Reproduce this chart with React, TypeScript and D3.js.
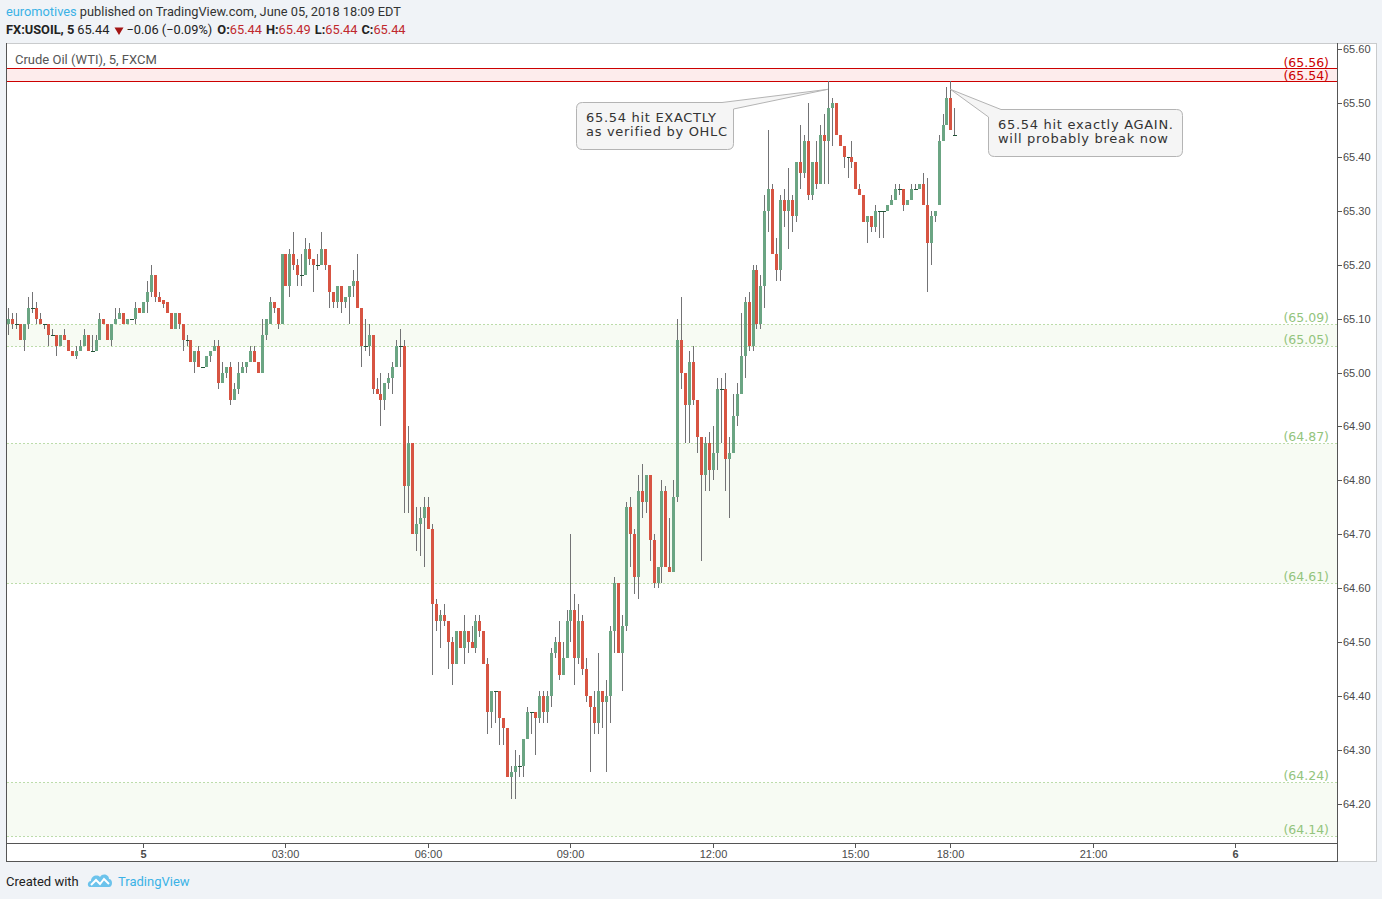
import React from 'react';
import * as d3 from 'd3';

// ---------- DATA (5-minute bars, FX:USOIL) ----------
const OPEN = [
  65.09,65.10,65.09,65.09,65.06,65.09,65.12,65.12,65.10,65.09,
  65.09,65.07,65.07,65.05,65.07,65.06,65.04,65.03,65.04,65.05,
  65.07,65.04,65.04,65.06,65.10,65.09,65.06,65.09,65.10,65.11,
  65.09,65.10,65.10,65.12,65.11,65.13,65.15,65.18,65.14,65.135,
  65.13,65.11,65.08,65.11,65.09,65.06,65.06,65.02,65.04,65.01,
  65.01,65.03,65.04,65.05,64.98,65.00,65.01,64.95,64.97,65.00,
  65.01,65.02,65.04,65.02,65.00,65.07,65.09,65.13,65.12,65.09,
  65.22,65.16,65.22,65.20,65.18,65.18,65.23,65.21,65.20,65.20,
  65.23,65.20,65.15,65.13,65.16,65.13,65.14,65.16,65.17,65.12,
  65.05,65.05,65.07,64.97,64.96,64.95,64.98,64.99,65.01,65.05,
  65.05,64.79,64.87,64.70,64.72,64.73,64.75,64.71,64.57,64.54,
  64.55,64.54,64.50,64.46,64.52,64.49,64.52,64.50,64.49,64.54,
  64.52,64.46,64.37,64.41,64.41,64.36,64.34,64.25,64.26,64.27,
  64.27,64.32,64.37,64.37,64.36,64.40,64.37,64.40,64.48,64.50,
  64.44,64.47,64.54,64.56,64.47,64.54,64.45,64.40,64.38,64.35,
  64.41,64.39,64.40,64.52,64.61,64.48,64.53,64.75,64.70,64.62,
  64.78,64.76,64.81,64.69,64.61,64.64,64.78,64.64,64.63,64.77,
  65.06,65.00,64.94,65.02,64.95,64.88,64.81,64.87,64.82,64.85,
  64.97,64.97,64.84,64.85,64.92,64.96,65.03,65.13,65.05,65.19,
  65.09,65.16,65.30,65.34,65.22,65.19,65.32,65.30,65.32,65.29,
  65.39,65.37,65.43,65.33,65.39,65.35,65.44,65.43,65.49,65.50,
  65.44,65.42,65.40,65.40,65.39,65.34,65.33,65.28,65.29,65.27,
  65.30,65.30,65.30,65.31,65.32,65.34,65.34,65.31,65.32,65.34,
  65.34,65.35,65.31,65.24,65.29,65.31,65.43,65.46,65.51,65.44,
];
const HIGH = [
  65.12,65.11,65.11,65.09,65.09,65.14,65.15,65.13,65.11,65.09,
  65.09,65.08,65.07,65.07,65.08,65.06,65.04,65.05,65.06,65.08,
  65.07,65.07,65.07,65.11,65.10,65.09,65.09,65.12,65.12,65.11,
  65.10,65.10,65.13,65.12,65.13,65.17,65.20,65.18,65.15,65.135,
  65.13,65.11,65.11,65.11,65.09,65.07,65.06,65.04,65.05,65.01,
  65.03,65.04,65.06,65.06,65.02,65.01,65.02,64.98,65.02,65.02,
  65.02,65.05,65.05,65.02,65.10,65.10,65.14,65.13,65.12,65.22,
  65.22,65.23,65.26,65.21,65.22,65.25,65.24,65.21,65.22,65.26,
  65.23,65.20,65.15,65.16,65.16,65.14,65.16,65.19,65.22,65.12,
  65.10,65.09,65.07,64.99,65.00,64.98,65.00,65.02,65.06,65.08,
  65.06,64.90,64.87,64.75,64.75,64.77,64.77,64.72,64.58,64.56,
  64.57,64.54,64.51,64.52,64.52,64.55,64.52,64.53,64.55,64.55,
  64.52,64.47,64.41,64.41,64.41,64.36,64.34,64.27,64.30,64.29,
  64.32,64.38,64.37,64.37,64.41,64.41,64.41,64.49,64.51,64.54,
  64.50,64.56,64.70,64.59,64.57,64.55,64.47,64.40,64.41,64.48,
  64.41,64.43,64.53,64.62,64.61,64.55,64.76,64.77,64.71,64.81,
  64.83,64.81,64.81,64.70,64.64,64.80,64.79,64.73,64.80,65.10,
  65.14,65.00,65.04,65.05,64.95,64.88,64.88,64.89,64.90,64.99,
  64.99,65.00,64.88,64.96,64.98,65.11,65.14,65.15,65.20,65.20,
  65.18,65.33,65.45,65.35,65.25,65.33,65.34,65.38,65.33,65.39,
  65.46,65.44,65.50,65.39,65.43,65.46,65.48,65.54,65.51,65.50,
  65.44,65.42,65.40,65.43,65.39,65.35,65.33,65.29,65.29,65.31,
  65.30,65.30,65.31,65.33,65.35,65.35,65.34,65.32,65.35,65.35,
  65.35,65.37,65.36,65.30,65.30,65.44,65.48,65.53,65.54,65.49,
];
const LOW = [
  65.07,65.08,65.08,65.06,65.04,65.08,65.11,65.09,65.09,65.08,
  65.05,65.07,65.03,65.05,65.06,65.04,65.03,65.025,65.04,65.05,
  65.04,65.04,65.04,65.06,65.09,65.06,65.05,65.09,65.10,65.09,
  65.09,65.10,65.09,65.11,65.11,65.11,65.14,65.13,65.13,65.12,
  65.11,65.08,65.08,65.08,65.04,65.05,65.02,65.00,65.01,65.01,
  65.01,65.02,65.04,64.97,64.98,64.99,64.94,64.95,64.96,65.00,
  65.00,65.02,65.02,65.00,65.00,65.06,65.09,65.11,65.08,65.09,
  65.16,65.14,65.19,65.16,65.16,65.18,65.20,65.15,65.19,65.20,
  65.19,65.12,65.12,65.12,65.11,65.12,65.09,65.14,65.12,65.01,
  65.04,65.03,64.96,64.96,64.90,64.93,64.97,64.96,65.01,65.01,
  64.74,64.74,64.70,64.67,64.66,64.64,64.71,64.44,64.52,64.49,
  64.53,64.45,64.42,64.46,64.49,64.46,64.48,64.49,64.48,64.51,
  64.46,64.33,64.34,64.35,64.31,64.31,64.25,64.21,64.21,64.25,
  64.25,64.32,64.33,64.29,64.35,64.35,64.35,64.38,64.47,64.43,
  64.44,64.47,64.50,64.42,64.46,64.44,64.39,64.26,64.33,64.33,
  64.34,64.26,64.35,64.48,64.48,64.41,64.52,64.64,64.59,64.58,
  64.73,64.74,64.65,64.60,64.60,64.61,64.64,64.63,64.63,64.76,
  64.97,64.87,64.87,64.94,64.85,64.65,64.78,64.78,64.80,64.82,
  64.87,64.78,64.73,64.85,64.90,64.96,64.99,65.04,65.04,65.08,
  65.08,65.12,65.26,65.22,65.17,65.17,65.27,65.23,65.26,65.28,
  65.34,65.36,65.32,65.32,65.34,65.35,65.35,65.35,65.42,65.44,
  65.42,65.38,65.36,65.38,65.34,65.33,65.28,65.24,65.26,65.26,
  65.25,65.25,65.30,65.31,65.32,65.33,65.30,65.31,65.32,65.34,
  65.34,65.31,65.15,65.20,65.28,65.31,65.43,65.46,65.45,65.44,
];
const CLOSE = [
  65.10,65.09,65.09,65.06,65.09,65.12,65.12,65.10,65.09,65.09,
  65.07,65.07,65.05,65.07,65.06,65.04,65.03,65.04,65.05,65.07,
  65.04,65.04,65.06,65.10,65.09,65.06,65.09,65.10,65.11,65.09,
  65.10,65.10,65.12,65.11,65.13,65.15,65.18,65.14,65.13,65.127,
  65.11,65.08,65.11,65.09,65.06,65.06,65.02,65.04,65.01,65.01,
  65.03,65.04,65.05,64.98,65.00,65.01,64.95,64.97,65.00,65.01,
  65.02,65.04,65.02,65.00,65.07,65.10,65.13,65.12,65.09,65.22,
  65.16,65.22,65.20,65.18,65.18,65.23,65.21,65.20,65.20,65.23,
  65.20,65.15,65.13,65.16,65.13,65.14,65.16,65.17,65.12,65.05,
  65.05,65.07,64.97,64.96,64.95,64.98,64.99,65.01,65.05,65.05,
  64.79,64.87,64.70,64.72,64.73,64.75,64.71,64.57,64.54,64.55,
  64.54,64.50,64.46,64.52,64.49,64.52,64.50,64.49,64.54,64.52,
  64.46,64.37,64.41,64.41,64.36,64.34,64.25,64.26,64.27,64.27,
  64.32,64.37,64.37,64.36,64.40,64.37,64.40,64.48,64.50,64.44,
  64.47,64.54,64.56,64.47,64.54,64.45,64.40,64.38,64.35,64.41,
  64.39,64.40,64.52,64.61,64.48,64.53,64.75,64.70,64.62,64.78,
  64.76,64.81,64.69,64.61,64.64,64.78,64.64,64.63,64.77,65.06,
  65.00,64.94,65.02,64.95,64.88,64.81,64.87,64.82,64.85,64.97,
  64.97,64.84,64.85,64.92,64.96,65.03,65.13,65.05,65.19,65.09,
  65.16,65.30,65.34,65.22,65.19,65.32,65.30,65.32,65.29,65.39,
  65.37,65.43,65.33,65.39,65.35,65.44,65.43,65.49,65.50,65.44,
  65.42,65.40,65.40,65.39,65.34,65.33,65.28,65.29,65.27,65.30,
  65.30,65.30,65.31,65.32,65.34,65.34,65.31,65.32,65.34,65.34,
  65.35,65.31,65.24,65.29,65.30,65.43,65.46,65.51,65.45,65.44,
];

const PRICE_TICKS = [65.6, 65.5, 65.4, 65.3, 65.2, 65.1, 65.0, 64.9, 64.8, 64.7, 64.6, 64.5, 64.4, 64.3, 64.2];
// bar index of each time label (bars are 5 minutes; 17:00-18:00 session break has no bars)
const TIME_TICK_BARS = [34, 70, 106, 142, 178, 214, 238, 274, 310];
const TIME_TICK_LABELS = ['5', '03:00', '06:00', '09:00', '12:00', '15:00', '18:00', '21:00', '6'];

const RED_LEVELS = [65.565, 65.541];
const RED_LABELS = ['(65.56)', '(65.54)'];
const GREEN_ZONES = [[65.09, 65.05], [64.87, 64.61], [64.24, 64.14]];
const GREEN_LABELS = [['(65.09)', '(65.05)'], ['(64.87)', '(64.61)'], ['(64.24)', '(64.14)']];

const TOUCH_BARS = [207, 238];
const TOUCH_PRICE = 65.54;

// ---------- LAYOUT ----------
const W = 1382, H = 899;
const BOX = { left: 6, right: 1377, top: 43, bottom: 862 };
const PLOT = { left: 6, right: 1337, top: 43, bottom: 843 };

const UP = '#6ba583', DOWN = '#d75442', WICK = '#737375', DOJI = '#225437';
const BG = '#f0f3f7';

const yScale = d3.scaleLinear().domain([64.2, 65.6]).range([804, 49]);
const xScale = d3.scaleLinear().domain([34, 310]).range([143, 1235.4]);

function calloutRight(l: number, t: number, r: number, b: number, rad: number, baseX: number, baseY: number, ax: number, ay: number) {
  const p = d3.path();
  p.moveTo(l + rad, t);
  p.lineTo(baseX, t);
  p.lineTo(ax, ay);
  p.lineTo(r, baseY);
  p.lineTo(r, b - rad);
  p.quadraticCurveTo(r, b, r - rad, b);
  p.lineTo(l + rad, b);
  p.quadraticCurveTo(l, b, l, b - rad);
  p.lineTo(l, t + rad);
  p.quadraticCurveTo(l, t, l + rad, t);
  p.closePath();
  return p.toString();
}
function calloutLeft(l: number, t: number, r: number, b: number, rad: number, baseX: number, baseY: number, ax: number, ay: number) {
  const p = d3.path();
  p.moveTo(baseX, t);
  p.lineTo(r - rad, t);
  p.quadraticCurveTo(r, t, r, t + rad);
  p.lineTo(r, b - rad);
  p.quadraticCurveTo(r, b, r - rad, b);
  p.lineTo(l + rad, b);
  p.quadraticCurveTo(l, b, l, b - rad);
  p.lineTo(l, baseY);
  p.lineTo(ax, ay);
  p.closePath();
  return p.toString();
}

export default function App() {
  const hdrFont = 'Roboto, "Noto Sans", sans-serif';
  const axisFont = '"Liberation Sans", Arial, sans-serif';
  const noteFont = '"DejaVu Sans", Verdana, sans-serif';

  const candles = OPEN.map((o, i) => {
    const h = HIGH[i], l = LOW[i], c = CLOSE[i];
    const cx = Math.round(xScale(i));
    const yh = Math.round(yScale(h)), yl = Math.round(yScale(l));
    const top = Math.round(yScale(Math.max(o, c)));
    const bot = Math.round(yScale(Math.min(o, c)));
    const doji = Math.abs(o - c) < 0.004;
    return (
      <g key={i}>
        <line x1={cx + 0.5} x2={cx + 0.5} y1={yh} y2={Math.max(yl, yh + 1)} stroke={WICK} strokeWidth={1} />
        {doji ? (
          <rect x={cx - 1} y={top} width={4} height={1} fill={DOJI} />
        ) : (
          <rect x={cx - 1} y={top} width={3} height={Math.max(1, bot - top)} fill={c >= o ? UP : DOWN} />
        )}
      </g>
    );
  });

  const a1x = xScale(TOUCH_BARS[0]), a2x = xScale(TOUCH_BARS[1]);
  const ay = yScale(TOUCH_PRICE) + 8;

  return (
    <div style={{ position: 'fixed', left: 0, top: 0, width: W, height: H, background: BG }}>
      <svg width={W} height={H} style={{ display: 'block' }}>
        <rect x={0} y={0} width={W} height={H} fill={BG} />
        {/* header */}
        <text x={6} y={16} fontFamily={hdrFont} fontSize={12.8} fill="#333">
          <tspan fill="#3bb2e6">euromotives</tspan>
          <tspan> published on TradingView.com, June 05, 2018 18:09 EDT</tspan>
        </text>
        <text x={6} y={34} fontFamily={hdrFont} fontSize={12.8} fill="#222">
          <tspan fontWeight="bold">FX:USOIL, 5</tspan>
          <tspan dx={3}>65.44</tspan>
          <tspan dx={17}>−0.06 (−0.09%)</tspan>
          <tspan dx={5} fontWeight="bold">O:</tspan>
          <tspan fill="#c0282d">65.44</tspan>
          <tspan dx={4} fontWeight="bold">H:</tspan>
          <tspan fill="#c0282d">65.49</tspan>
          <tspan dx={4} fontWeight="bold">L:</tspan>
          <tspan fill="#c0282d">65.44</tspan>
          <tspan dx={4} fontWeight="bold">C:</tspan>
          <tspan fill="#c0282d">65.44</tspan>
        </text>
        <path d="M114.5,27.5 L123.5,27.5 L119,35 Z" fill="#a31515" />

        {/* chart box */}
        <rect x={BOX.left + 0.5} y={BOX.top + 0.5} width={BOX.right - BOX.left - 1} height={BOX.bottom - BOX.top - 1} fill="#fff" stroke="#c9cbcd" />

        {/* green zones */}
        {GREEN_ZONES.map((z, k) => {
          const y1 = Math.round(yScale(z[0])) + 0.5, y2 = Math.round(yScale(z[1])) + 0.5;
          return (
            <g key={'z' + k}>
              <rect x={PLOT.left + 1} y={y1} width={PLOT.right - PLOT.left - 1} height={y2 - y1} fill="#f7fbf3" />
              <line x1={PLOT.left + 1} x2={PLOT.right} y1={y1} y2={y1} stroke="#bcdcaa" strokeDasharray="2,2" />
              <line x1={PLOT.left + 1} x2={PLOT.right} y1={y2} y2={y2} stroke="#bcdcaa" strokeDasharray="2,2" />
              <text x={PLOT.right - 8} y={y1 - 2.5} textAnchor="end" fontFamily={noteFont} fontSize={12.5} fill="#93c47d">{GREEN_LABELS[k][0]}</text>
              <text x={PLOT.right - 8} y={y2 - 2.5} textAnchor="end" fontFamily={noteFont} fontSize={12.5} fill="#93c47d">{GREEN_LABELS[k][1]}</text>
            </g>
          );
        })}

        {/* red resistance band */}
        {(() => {
          const y1 = Math.round(yScale(RED_LEVELS[0])) + 0.5, y2 = Math.round(yScale(RED_LEVELS[1])) + 0.5;
          return (
            <g>
              <rect x={PLOT.left + 1} y={y1} width={PLOT.right - PLOT.left - 1} height={y2 - y1} fill="#fdecec" />
              <line x1={PLOT.left + 1} x2={PLOT.right} y1={y1} y2={y1} stroke="#cc0000" />
              <line x1={PLOT.left + 1} x2={PLOT.right} y1={y2} y2={y2} stroke="#cc0000" />
              <text x={PLOT.right - 8} y={y1 - 1.5} textAnchor="end" fontFamily={noteFont} fontSize={12.5} fill="#cc0000">{RED_LABELS[0]}</text>
              <text x={PLOT.right - 8} y={y2 - 1.5} textAnchor="end" fontFamily={noteFont} fontSize={12.5} fill="#cc0000">{RED_LABELS[1]}</text>
            </g>
          );
        })()}

        {/* title */}
        <text x={15} y={64} fontFamily={hdrFont} fontSize={13} fill="#555">Crude Oil (WTI), 5, FXCM</text>

        {/* candles */}
        <g>{candles}</g>

        {/* callouts */}
        <path d={calloutRight(576.5, 102.5, 733.5, 149.5, 6, 722, 109, a1x, ay)} fill="#f5f5f5" stroke="#b4b4b4" />
        <text fontFamily={noteFont} fontSize={13} fill="#333" letterSpacing={0.7}>
          <tspan x={586} y={122}>65.54 hit EXACTLY</tspan>
          <tspan x={586} y={136}>as verified by OHLC</tspan>
        </text>
        <path d={calloutLeft(988.5, 109.5, 1182.5, 156.5, 6, 1001, 117, a2x, ay)} fill="#f5f5f5" stroke="#b4b4b4" />
        <text fontFamily={noteFont} fontSize={13} fill="#333" letterSpacing={0.7}>
          <tspan x={998} y={129}>65.54 hit exactly AGAIN.</tspan>
          <tspan x={998} y={143}>will probably break now</tspan>
        </text>

        {/* axes lines */}
        <line x1={PLOT.left + 0.5} x2={PLOT.left + 0.5} y1={PLOT.top} y2={BOX.bottom} stroke="#555" />
        <line x1={PLOT.right + 0.5} x2={PLOT.right + 0.5} y1={PLOT.top} y2={BOX.bottom} stroke="#555" />
        <line x1={PLOT.left} x2={PLOT.right + 1} y1={PLOT.bottom + 0.5} y2={PLOT.bottom + 0.5} stroke="#555" />
        <line x1={PLOT.left} x2={PLOT.right + 1} y1={BOX.bottom - 0.5} y2={BOX.bottom - 0.5} stroke="#555" />

        {/* price axis */}
        {PRICE_TICKS.map((p) => {
          const y = Math.round(yScale(p)) + 0.5;
          return (
            <g key={'p' + p}>
              <line x1={PLOT.right + 1} x2={PLOT.right + 5} y1={y} y2={y} stroke="#555" />
              <text x={PLOT.right + 6} y={y + 3.5} fontFamily={axisFont} fontSize={11} fill="#4a4a4a">{p.toFixed(2)}</text>
            </g>
          );
        })}

        {/* time axis */}
        {TIME_TICK_BARS.map((b, k) => {
          const x = Math.round(xScale(b)) + 0.5;
          return (
            <g key={'t' + b}>
              <line x1={x} x2={x} y1={PLOT.bottom + 1} y2={PLOT.bottom + 5} stroke="#555" />
              <text x={x} y={858} textAnchor="middle" fontFamily={axisFont} fontSize={11} fill="#4a4a4a" fontWeight={k === 0 || k === TIME_TICK_BARS.length - 1 ? 'bold' : 'normal'}>{TIME_TICK_LABELS[k]}</text>
            </g>
          );
        })}

        {/* footer */}
        <text x={6} y={886} fontFamily={hdrFont} fontSize={13} fill="#222">Created with</text>
        <g transform="translate(88,873)">
          <path d="M2,14 C-1,14 -1,8 3,8 C3,3 9,1 12,4 C14,0 21,1 21,6 C25,6 25,14 21,14 Z" fill="#6cc3ec" />
          <path d="M3,12 L8,7 L12,11 L16,6 L21,11" fill="none" stroke="#fff" strokeWidth={2} />
        </g>
        <text x={118} y={886} fontFamily={hdrFont} fontSize={13} fill="#3bb2e6">TradingView</text>
      </svg>
    </div>
  );
}
